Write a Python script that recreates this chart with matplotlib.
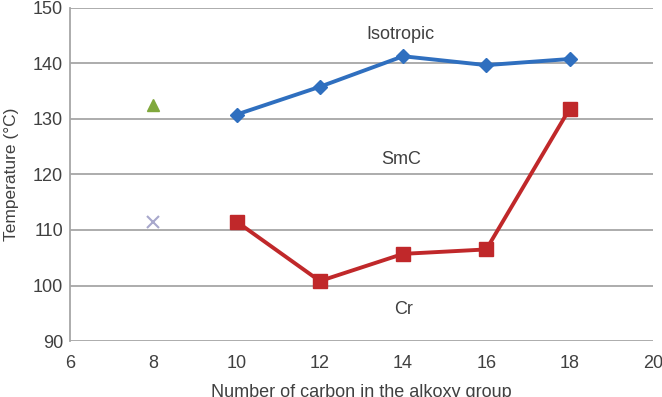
import numpy as np
import matplotlib
matplotlib.use('Agg')
import matplotlib.pyplot as plt

plt.rcParams['font.family'] = ['Liberation Sans', 'DejaVu Sans']

carbons = [10, 12, 14, 16, 18]
iso_temp = [130.8, 135.8, 141.3, 139.7, 140.8]
cr_temp = [111.5, 100.8, 105.7, 106.5, 131.8]
c8_iso = 132.5
c8_cr = 111.4

phase_labels = ['Isotropic', 'SmC', 'Cr']
phase_x = [13.93, 13.95, 14.0]
phase_y = [145.3, 122.7, 95.6]

fig = plt.figure(figsize=(6.62, 3.97), dpi=100)
ax = fig.add_axes([0.106, 0.141, 0.880, 0.839])

for yv in range(90, 151, 10):
    ax.axhline(yv, color='#a6a6a6', lw=1.3, zorder=1)

ax.plot(carbons, iso_temp, color='#2f6fbf', lw=2.8, marker='D', ms=7.5, zorder=3)
ax.plot(carbons, cr_temp, color='#c0282a', lw=2.8, marker='s', ms=9.5, zorder=3)
ax.plot([8], [c8_iso], linestyle='none', marker='^', color='#80a83c', ms=9, zorder=3)
ax.plot([8], [c8_cr], linestyle='none', marker='x', color='#a8a8cc', ms=8.5, mew=1.5, zorder=3)

for lab, xx, yy in zip(phase_labels, phase_x, phase_y):
    ax.text(xx, yy, lab, ha='center', va='center', fontsize=13, color='#404040')

ax.set_xlim(6, 20)
ax.set_ylim(90, 150)
ax.set_xticks(range(6, 21, 2))
ax.set_yticks(range(90, 151, 10))
for s in ['top', 'right', 'bottom']:
    ax.spines[s].set_visible(False)
ax.spines['left'].set_color('#a6a6a6')
ax.spines['left'].set_linewidth(1.3)
ax.tick_params(length=0, labelsize=13, colors='#404040')
ax.tick_params(axis='x', pad=10)
ax.tick_params(axis='y', pad=5)

ax.set_xlabel('Number of carbon in the alkoxy group', fontsize=13, color='#404040')
ax.xaxis.set_label_coords(0.5, -0.128)
ax.set_ylabel('Temperature (°C)', fontsize=12.5, color='#404040')
ax.yaxis.set_label_coords(-0.087, 0.5)

fig.savefig('out.png', dpi=100)
